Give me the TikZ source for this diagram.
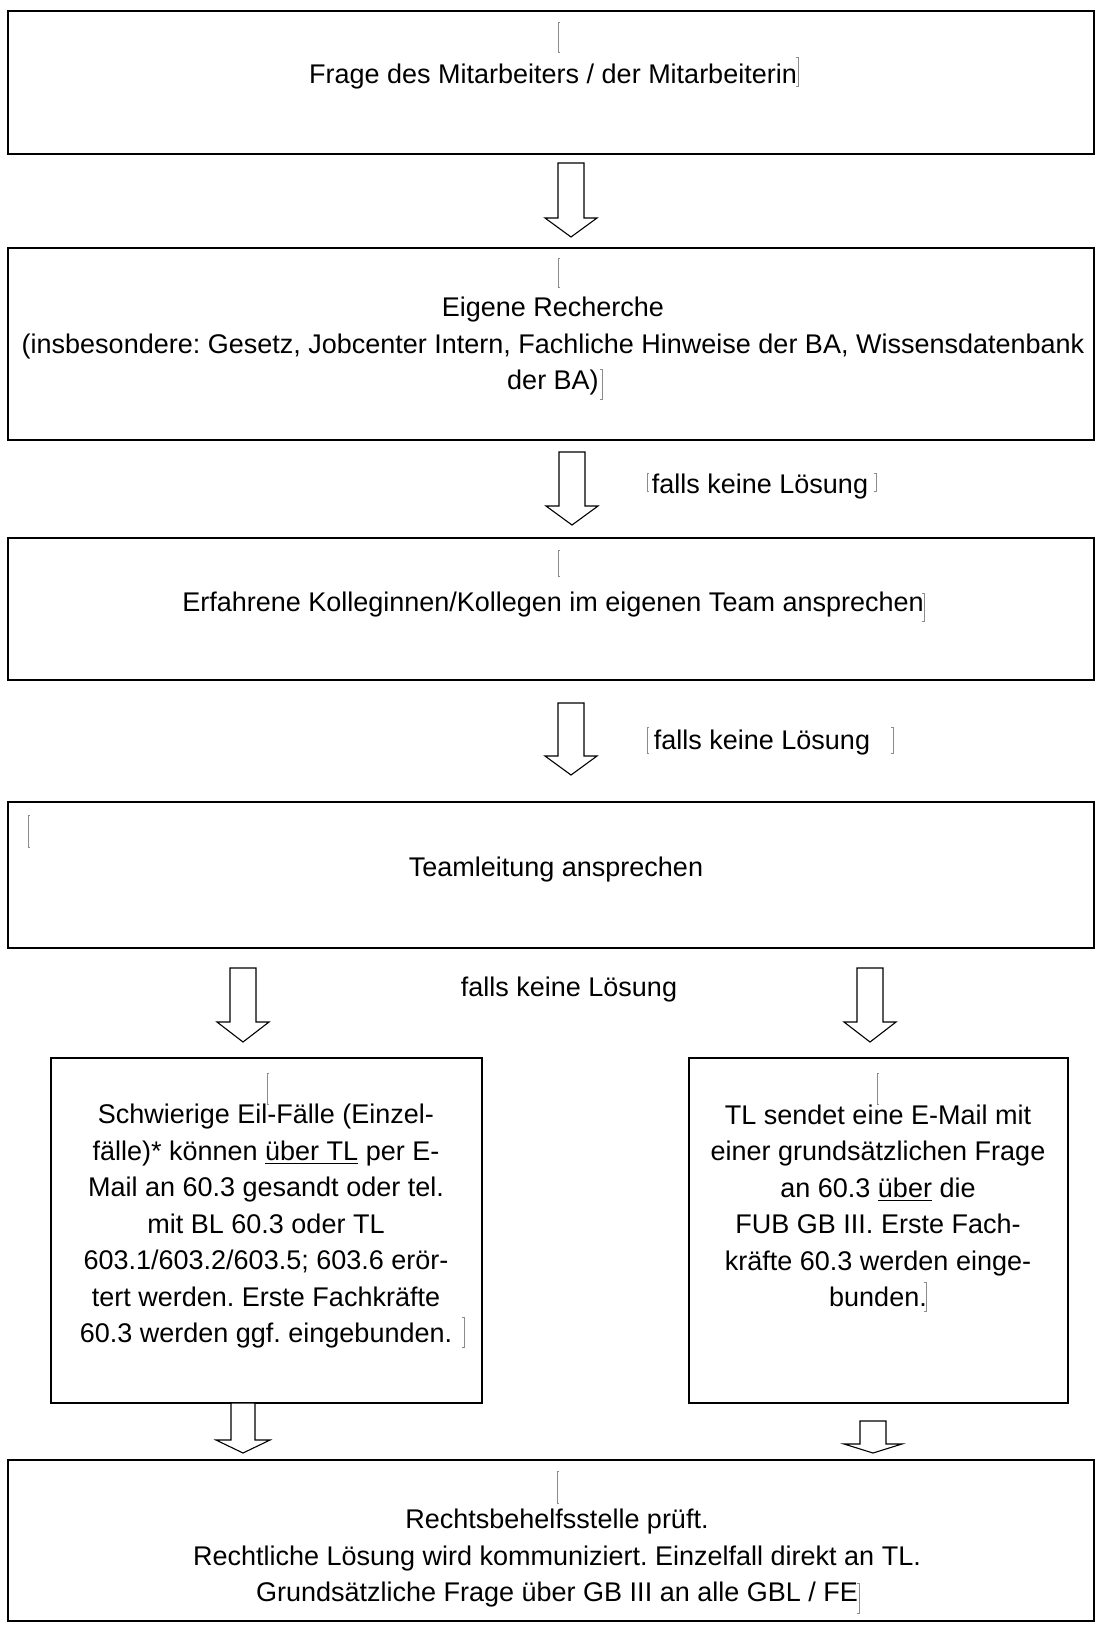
\documentclass[tikz,border=0pt]{standalone}
\usepackage{fontspec}
\setmainfont{Liberation Sans}
\usetikzlibrary{fit}
\frenchspacing
\newcommand{\hollowdown}[6]{\draw[hollow] (#1-#5,#2) -- (#1+#5,#2) -- (#1+#5,#3) -- (#1+#6,#3) -- (#1,#4) -- (#1-#6,#3) -- (#1-#5,#3) -- cycle;}
\newcommand{\openbar}[3]{\draw[cursorbar] (#1+2,#2) -- (#1,#2) -- (#1,#3) -- (#1+2,#3);}
\newcommand{\closebar}[3]{\draw[cursorbar] (#1-2,#2) -- (#1,#2) -- (#1,#3) -- (#1-2,#3);}
\begin{document}
\begin{tikzpicture}[x=0.5pt,y=-0.5pt,
  wbox/.style={draw,line width=0.8pt,inner sep=0pt},
  nbox/.style={draw,line width=0.6pt,inner sep=0pt},
  txt/.style={align=center,inner sep=0pt,font=\fontsize{13.5}{18.25}\selectfont,
    execute at begin node=\strut,execute at end node=\strut},
  hollow/.style={draw,line width=0.55pt,fill=white},
  cursorbar/.style={draw=black!45,line width=0.3pt}]
\useasboundingbox (0,0) rectangle (1102,1628);
% Kaesten
\node[wbox,fit={(8,11) (1094,154)}] (frage) {};
\node[wbox,fit={(8,248) (1094,440)}] (recherche) {};
\node[wbox,fit={(8,538) (1094,680)}] (kollegen) {};
\node[wbox,fit={(8,802) (1094,948)}] (teamleitung) {};
\node[nbox,fit={(51,1058) (482,1403)}] (eilfall) {};
\node[nbox,fit={(689,1058) (1068,1403)}] (grundsatz) {};
\node[wbox,fit={(8,1460) (1094,1621)}] (rbst) {};
% Texte
\node[txt] (frageT) at (553,76) {Frage des Mitarbeiters / der Mitarbeiterin};
\node[txt] (rechercheT) at (553,349) {Eigene Recherche\\
  (insbesondere: Gesetz, Jobcenter Intern, Fachliche Hinweise der BA, Wissensdatenbank\\
  der BA)};
\node[txt] (kollegenT) at (553,604) {Erfahrene Kolleginnen/Kollegen im eigenen Team ansprechen};
\node[txt] (teamleitungT) at (556,869) {Teamleitung ansprechen};
\node[txt] (eilfallT) at (266,1229) {Schwierige Eil-Fälle (Einzel-\\
  fälle)* können \underline{über TL} per E-\\
  Mail an 60.3 gesandt oder tel.\\
  mit BL 60.3 oder TL\\
  603.1/603.2/603.5; 603.6 erör-\\
  tert werden. Erste Fachkräfte\\
  60.3 werden ggf. eingebunden.};
\node[txt] (grundsatzT) at (878,1211) {TL sendet eine E-Mail mit\\
  einer grundsätzlichen Frage\\
  an 60.3 \underline{über} die\\
  FUB GB III. Erste Fach-\\
  kräfte 60.3 werden einge-\\
  bunden.};
\node[txt] (rbstT) at (557,1561) {Rechtsbehelfsstelle prüft.\\
  Rechtliche Lösung wird kommuniziert. Einzelfall direkt an TL.\\
  Grundsätzliche Frage über GB III an alle GBL / FE};
\node[txt] (keineA) at (760,486) {falls keine Lösung};
\node[txt] (keineB) at (762,742) {falls keine Lösung};
\node[txt] (keineC) at (569,989) {falls keine Lösung};
% Blockpfeile
\hollowdown{571}{163}{218}{237}{13}{26}
\hollowdown{572}{452}{506}{525}{13}{26}
\hollowdown{571}{703}{756}{775}{13}{26}
\hollowdown{243}{968}{1022}{1042}{13}{26}
\hollowdown{870}{968}{1022}{1042}{13}{26}
\hollowdown{243}{1403}{1440}{1453}{12}{27}
\hollowdown{873}{1421}{1444}{1453}{13}{29}
% Textmarken
\openbar{558}{22}{52} \closebar{798}{57}{86}
\openbar{558}{258}{287} \closebar{602}{369}{399}
\openbar{647}{473}{491} \closebar{876}{473}{491}
\openbar{558}{550}{576} \closebar{924}{593}{621}
\openbar{647}{727}{753} \closebar{893}{727}{753}
\openbar{28}{815}{847}
\openbar{267}{1073}{1104} \closebar{464}{1317}{1347}
\openbar{877}{1073}{1104} \closebar{926}{1282}{1311}
\openbar{557}{1471}{1503} \closebar{859}{1583}{1613}
\end{tikzpicture}
\end{document}
